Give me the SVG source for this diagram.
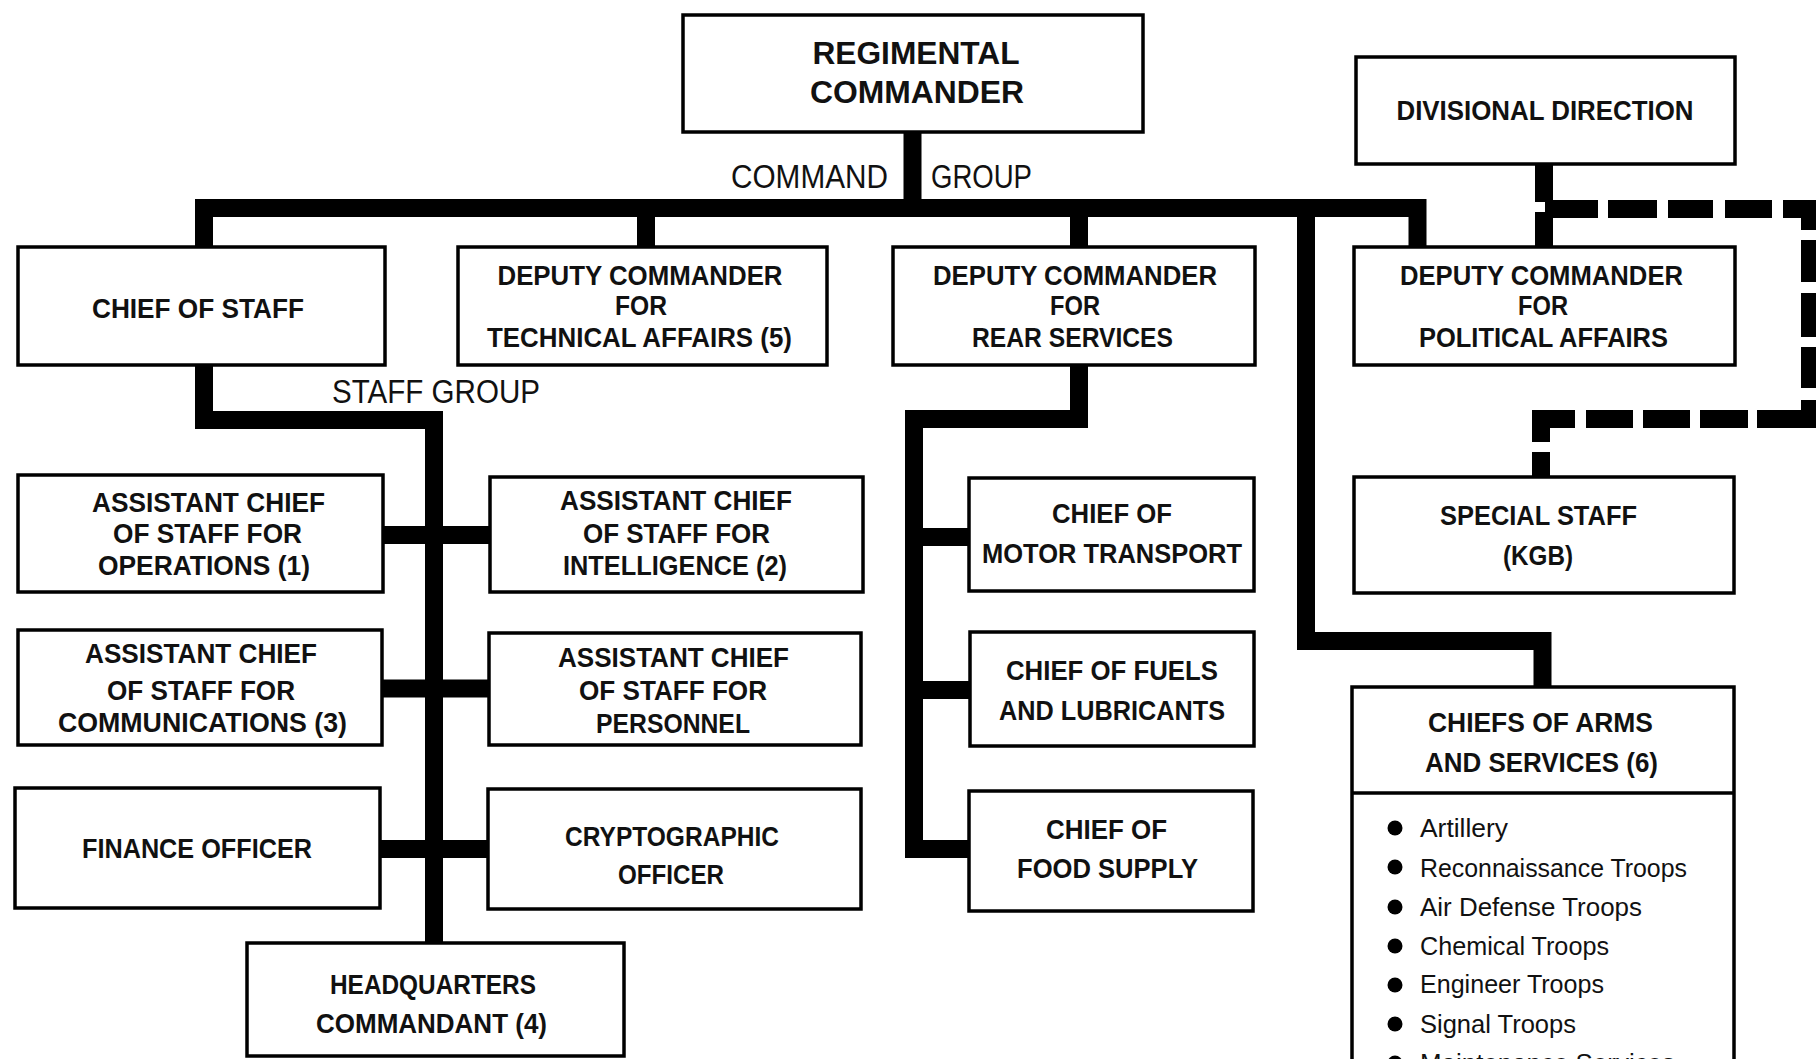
<svg xmlns="http://www.w3.org/2000/svg" width="1816" height="1059" viewBox="0 0 1816 1059">
<style>
.bg{fill:#fff}
.box{fill:#fff;stroke:#000;stroke-width:3.5}
.t{font-family:"Liberation Sans Narrow","Liberation Sans",Arial,sans-serif;font-weight:700;font-size:27px;fill:#111;text-anchor:middle}
.big{font-size:31px}
.lbl{font-family:"Liberation Sans Narrow","Liberation Sans",Arial,sans-serif;font-weight:400;font-size:34px;fill:#111}
.li{font-family:"Liberation Sans Narrow","Liberation Sans",Arial,sans-serif;font-weight:400;font-size:26px;fill:#111}
.ln{fill:none;stroke:#000;stroke-width:18;stroke-linejoin:miter;stroke-linecap:butt}
.dash{fill:#000}
</style>
<rect class="bg" x="0" y="0" width="1816" height="1059"/>

<g id="connectors">
  <path class="ln" d="M204 247 V208 H1417.5 V247"/>
  <path class="ln" d="M912.5 132 V208"/>
  <path class="ln" d="M646 208 V247"/>
  <path class="ln" d="M1079 208 V247"/>
  <path class="ln" d="M1306 208 V641 H1542.5 V687"/>
  <path class="ln" d="M204 365 V420 H434 V943"/>
  <path class="ln" d="M383 535 H490"/>
  <path class="ln" d="M382 688.5 H489"/>
  <path class="ln" d="M380 849 H488"/>
  <path class="ln" d="M1079 365 V419 H914 V849 H969"/>
  <path class="ln" d="M914 537 H969"/>
  <path class="ln" d="M914 690 H970"/>
  <path class="ln" d="M1544 164 V202"/>
  <rect class="dash" x="1545" y="202" width="8" height="10"/>
  <path class="ln" d="M1544 212 V247"/>
  <g id="dashed-link">
    <rect class="dash" x="1553" y="200" width="45" height="18"/>
    <rect class="dash" x="1608" y="200" width="49" height="18"/>
    <rect class="dash" x="1668" y="200" width="45" height="18"/>
    <rect class="dash" x="1725" y="200" width="47" height="18"/>
    <rect class="dash" x="1783" y="200" width="33" height="18"/>
    <rect class="dash" x="1801" y="200" width="15" height="30"/>
    <rect class="dash" x="1801" y="240" width="15" height="42"/>
    <rect class="dash" x="1801" y="293" width="15" height="44"/>
    <rect class="dash" x="1801" y="347" width="15" height="41"/>
    <rect class="dash" x="1801" y="400" width="15" height="28"/>
    <rect class="dash" x="1757" y="410" width="59" height="18"/>
    <rect class="dash" x="1700" y="410" width="48" height="18"/>
    <rect class="dash" x="1643" y="410" width="47" height="18"/>
    <rect class="dash" x="1586" y="410" width="47" height="18"/>
    <rect class="dash" x="1532" y="410" width="43" height="18"/>
    <rect class="dash" x="1532" y="410" width="18" height="32"/>
    <rect class="dash" x="1532" y="452" width="18" height="25"/>
  </g>
  <text class="lbl" x="731" y="188" textLength="157" lengthAdjust="spacingAndGlyphs">COMMAND</text>
  <text class="lbl" x="931" y="188" textLength="101" lengthAdjust="spacingAndGlyphs">GROUP</text>
  <text class="lbl" x="332" y="403" textLength="208" lengthAdjust="spacingAndGlyphs">STAFF GROUP</text>
</g>

<g id="regimental-commander">
  <rect class="box" x="683" y="15" width="460" height="117"/>
  <text class="t big" x="916" y="64" textLength="207" lengthAdjust="spacingAndGlyphs">REGIMENTAL</text>
  <text class="t big" x="917" y="103" textLength="214" lengthAdjust="spacingAndGlyphs">COMMANDER</text>
</g>

<g id="divisional-direction">
  <rect class="box" x="1356" y="57" width="379" height="107"/>
  <text class="t" x="1545" y="120" textLength="297" lengthAdjust="spacingAndGlyphs">DIVISIONAL DIRECTION</text>
</g>

<g id="chief-of-staff">
  <rect class="box" x="18" y="247" width="367" height="118"/>
  <text class="t" x="198" y="318" textLength="212" lengthAdjust="spacingAndGlyphs">CHIEF OF STAFF</text>
</g>

<g id="dep-technical">
  <rect class="box" x="458" y="247" width="369" height="118"/>
  <text class="t" x="640" y="285" textLength="285" lengthAdjust="spacingAndGlyphs">DEPUTY COMMANDER</text>
  <text class="t" x="641" y="315" textLength="52" lengthAdjust="spacingAndGlyphs">FOR</text>
  <text class="t" x="639.5" y="347" textLength="305" lengthAdjust="spacingAndGlyphs">TECHNICAL AFFAIRS (5)</text>
</g>

<g id="dep-rear">
  <rect class="box" x="893" y="247" width="362" height="118"/>
  <text class="t" x="1075" y="285" textLength="284" lengthAdjust="spacingAndGlyphs">DEPUTY COMMANDER</text>
  <text class="t" x="1075" y="315" textLength="50" lengthAdjust="spacingAndGlyphs">FOR</text>
  <text class="t" x="1072.5" y="347" textLength="201" lengthAdjust="spacingAndGlyphs">REAR SERVICES</text>
</g>

<g id="dep-political">
  <rect class="box" x="1354" y="247" width="381" height="118"/>
  <text class="t" x="1541.5" y="285" textLength="283" lengthAdjust="spacingAndGlyphs">DEPUTY COMMANDER</text>
  <text class="t" x="1543" y="315" textLength="50" lengthAdjust="spacingAndGlyphs">FOR</text>
  <text class="t" x="1543.5" y="347" textLength="249" lengthAdjust="spacingAndGlyphs">POLITICAL AFFAIRS</text>
</g>

<g id="acos-operations">
  <rect class="box" x="18" y="475" width="365" height="117"/>
  <text class="t" x="208.5" y="512" textLength="233" lengthAdjust="spacingAndGlyphs">ASSISTANT CHIEF</text>
  <text class="t" x="207.5" y="543" textLength="189" lengthAdjust="spacingAndGlyphs">OF STAFF FOR</text>
  <text class="t" x="204" y="575" textLength="212" lengthAdjust="spacingAndGlyphs">OPERATIONS (1)</text>
</g>

<g id="acos-intelligence">
  <rect class="box" x="490" y="477" width="373" height="115"/>
  <text class="t" x="676" y="510" textLength="232" lengthAdjust="spacingAndGlyphs">ASSISTANT CHIEF</text>
  <text class="t" x="676.5" y="543" textLength="187" lengthAdjust="spacingAndGlyphs">OF STAFF FOR</text>
  <text class="t" x="675" y="575" textLength="224" lengthAdjust="spacingAndGlyphs">INTELLIGENCE (2)</text>
</g>

<g id="acos-communications">
  <rect class="box" x="18" y="630" width="364" height="115"/>
  <text class="t" x="201" y="663" textLength="232" lengthAdjust="spacingAndGlyphs">ASSISTANT CHIEF</text>
  <text class="t" x="201" y="700" textLength="188" lengthAdjust="spacingAndGlyphs">OF STAFF FOR</text>
  <text class="t" x="202.5" y="732" textLength="289" lengthAdjust="spacingAndGlyphs">COMMUNICATIONS (3)</text>
</g>

<g id="acos-personnel">
  <rect class="box" x="489" y="633" width="372" height="112"/>
  <text class="t" x="673.5" y="667" textLength="231" lengthAdjust="spacingAndGlyphs">ASSISTANT CHIEF</text>
  <text class="t" x="673" y="700" textLength="188" lengthAdjust="spacingAndGlyphs">OF STAFF FOR</text>
  <text class="t" x="673" y="733" textLength="154" lengthAdjust="spacingAndGlyphs">PERSONNEL</text>
</g>

<g id="finance-officer">
  <rect class="box" x="15" y="788" width="365" height="120"/>
  <text class="t" x="197" y="858" textLength="230" lengthAdjust="spacingAndGlyphs">FINANCE OFFICER</text>
</g>

<g id="cryptographic-officer">
  <rect class="box" x="488" y="789" width="373" height="120"/>
  <text class="t" x="672" y="846" textLength="214" lengthAdjust="spacingAndGlyphs">CRYPTOGRAPHIC</text>
  <text class="t" x="671" y="884" textLength="106" lengthAdjust="spacingAndGlyphs">OFFICER</text>
</g>

<g id="hq-commandant">
  <rect class="box" x="247" y="943" width="377" height="113"/>
  <text class="t" x="433" y="994" textLength="206" lengthAdjust="spacingAndGlyphs">HEADQUARTERS</text>
  <text class="t" x="431.5" y="1033" textLength="231" lengthAdjust="spacingAndGlyphs">COMMANDANT (4)</text>
</g>

<g id="motor-transport">
  <rect class="box" x="969" y="478" width="285" height="113"/>
  <text class="t" x="1112" y="523" textLength="120" lengthAdjust="spacingAndGlyphs">CHIEF OF</text>
  <text class="t" x="1112" y="563" textLength="260" lengthAdjust="spacingAndGlyphs">MOTOR TRANSPORT</text>
</g>

<g id="fuels-lubricants">
  <rect class="box" x="970" y="632" width="284" height="114"/>
  <text class="t" x="1112" y="680" textLength="212" lengthAdjust="spacingAndGlyphs">CHIEF OF FUELS</text>
  <text class="t" x="1112" y="720" textLength="226" lengthAdjust="spacingAndGlyphs">AND LUBRICANTS</text>
</g>

<g id="food-supply">
  <rect class="box" x="969" y="791" width="284" height="120"/>
  <text class="t" x="1106.5" y="839" textLength="121" lengthAdjust="spacingAndGlyphs">CHIEF OF</text>
  <text class="t" x="1107.5" y="878" textLength="181" lengthAdjust="spacingAndGlyphs">FOOD SUPPLY</text>
</g>

<g id="special-staff">
  <rect class="box" x="1354" y="477" width="380" height="116"/>
  <text class="t" x="1538.5" y="525" textLength="197" lengthAdjust="spacingAndGlyphs">SPECIAL STAFF</text>
  <text class="t" x="1538" y="565" textLength="70" lengthAdjust="spacingAndGlyphs">(KGB)</text>
</g>

<g id="chiefs-of-arms">
  <rect class="box" x="1352" y="687" width="382" height="420"/>
  <line x1="1352" y1="793" x2="1734" y2="793" stroke="#000" stroke-width="3.5"/>
  <text class="t" x="1540.5" y="732" textLength="225" lengthAdjust="spacingAndGlyphs">CHIEFS OF ARMS</text>
  <text class="t" x="1541.5" y="772" textLength="233" lengthAdjust="spacingAndGlyphs">AND SERVICES (6)</text>
  <g fill="#000">
    <circle cx="1395" cy="828" r="7.5"/>
    <circle cx="1395" cy="867" r="7.5"/>
    <circle cx="1395" cy="907" r="7.5"/>
    <circle cx="1395" cy="946" r="7.5"/>
    <circle cx="1395" cy="985" r="7.5"/>
    <circle cx="1395" cy="1024" r="7.5"/>
    <circle cx="1395" cy="1063" r="7.5"/>
  </g>
  <text class="li" x="1420" y="837" textLength="88" lengthAdjust="spacingAndGlyphs">Artillery</text>
  <text class="li" x="1420" y="877" textLength="267" lengthAdjust="spacingAndGlyphs">Reconnaissance Troops</text>
  <text class="li" x="1420" y="916" textLength="222" lengthAdjust="spacingAndGlyphs">Air Defense Troops</text>
  <text class="li" x="1420" y="955" textLength="189" lengthAdjust="spacingAndGlyphs">Chemical Troops</text>
  <text class="li" x="1420" y="993" textLength="184" lengthAdjust="spacingAndGlyphs">Engineer Troops</text>
  <text class="li" x="1420" y="1033" textLength="156" lengthAdjust="spacingAndGlyphs">Signal Troops</text>
  <text class="li" x="1420" y="1072" textLength="255" lengthAdjust="spacingAndGlyphs">Maintenance Services</text>
</g>
</svg>
